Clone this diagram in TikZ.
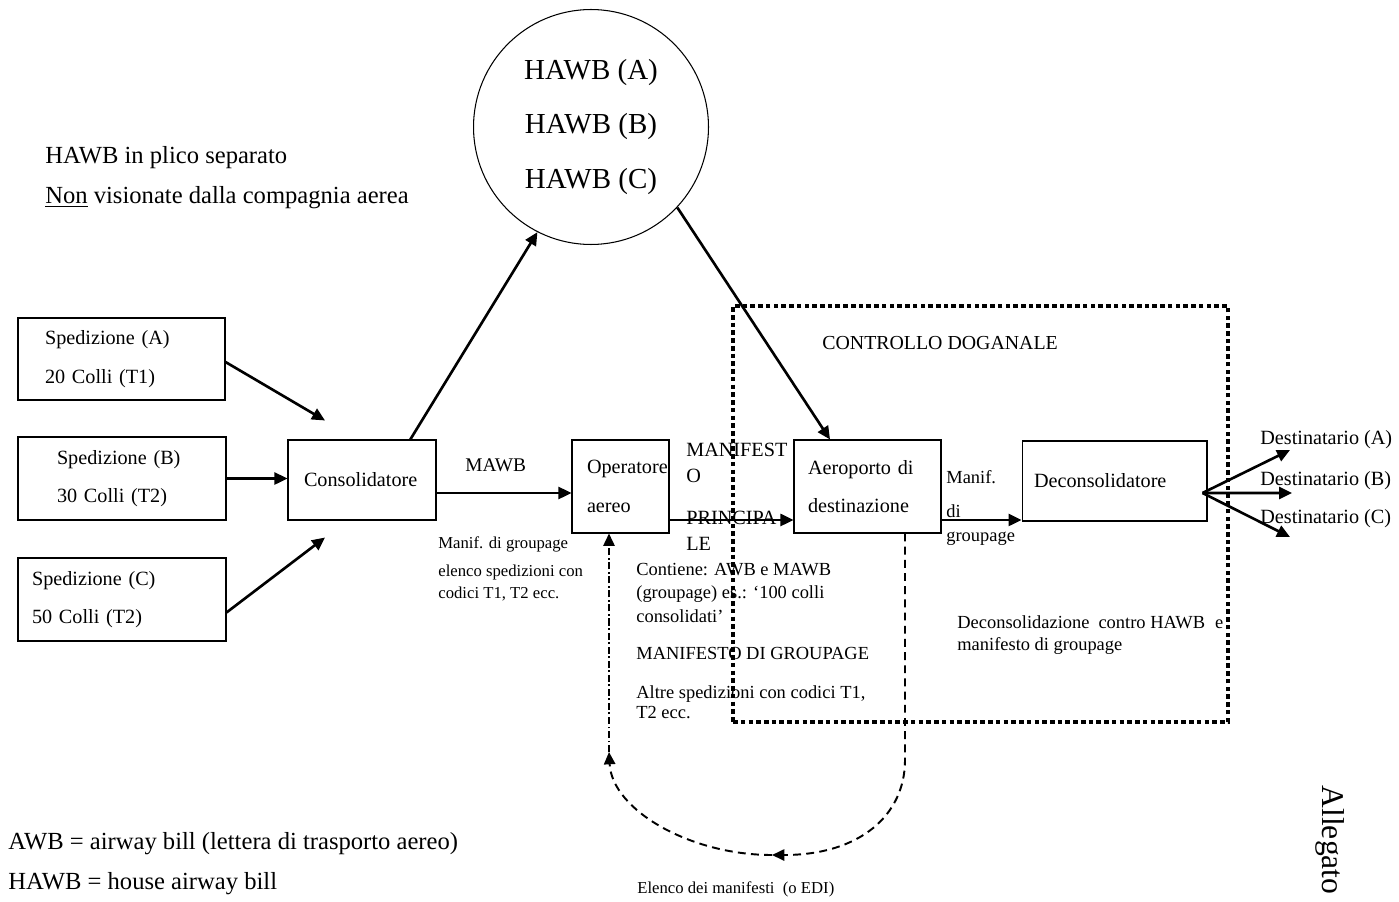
\documentclass[tikz,border=0pt]{standalone}
\usepackage{fontspec}
\setmainfont{Liberation Serif}
\usetikzlibrary{arrows.meta}

\begin{document}
\begin{tikzpicture}[x=0.02cm,y=-0.02cm,
    box/.style={draw,line width=0.6pt,font=\fontsize{11.5}{22}\selectfont,align=left,inner ysep=0pt},
    txt/.style={inner sep=0pt,align=left},
    arr/.style={line width=1.5pt,-{Triangle[length=7.4pt,width=6.8pt]}},
    dsh/.style={line width=1.1pt,dash pattern=on 4.5pt off 3pt,-{Triangle[length=7pt,width=6.4pt]}},
    dashdot/.style={line width=1pt,dash pattern=on 4pt off 1.5pt on 1pt off 1.5pt,-{Triangle[length=7pt,width=6.4pt]}},
    frame/.style={draw,line width=2.6pt,dash pattern=on 2.6pt off 1.8pt}]
      \useasboundingbox (0,0) rectangle (1399,902);
      \node[frame,minimum width=9.9cm,minimum height=8.32cm] (dogana) at (980.5,514) {};
      \node[box,minimum height=1.64cm,text width=3.06cm,inner xsep=0.54cm] (sa) at (121.5,359) {Spedizione (A)\\20 Colli (T1)};
      \node[box,minimum height=1.66cm,text width=2.6cm,inner xsep=0.78cm] (sb) at (122,478.5) {Spedizione (B)\\30 Colli (T2)};
      \node[box,minimum height=1.66cm,text width=3.6cm,inner xsep=0.28cm] (sc) at (122,599.5) {Spedizione (C)\\50 Colli (T2)};
      \node[box,minimum height=1.6cm,text width=2.32cm,inner xsep=0.32cm] (cons) at (362,480) {Consolidatore};
      \node[box,minimum height=1.86cm,text width=1.34cm,inner xsep=0.3cm] (oper) at (620.5,486.5) {Operatore\\aereo};
      \node[box,minimum height=1.86cm,text width=2.38cm,inner xsep=0.28cm] (aero) at (867.5,486.5) {Aeroporto di\\destinazione};
      \node[box,minimum height=1.6cm,text width=3.22cm,inner xsep=0.24cm] (decons) at (1114.5,481) {Deconsolidatore};
      \node[draw,circle,line width=0.6pt,minimum size=4.7cm,inner sep=0pt,align=center,font=\fontsize{16.5}{31}\selectfont] (hawb) at (591,127) {HAWB (A)\\HAWB (B)\\HAWB (C)};

      \node[txt,anchor=west,font=\fontsize{14}{17}\selectfont] (plico) at (45,158) {HAWB in plico separato};
      \node[txt,anchor=west,font=\fontsize{14}{17}\selectfont] (nonvis) at (45,198) {\underline{Non} visionate dalla compagnia aerea};
      \node[txt,anchor=west,font=\fontsize{11.3}{14}\selectfont] (ctrl) at (822,343) {CONTROLLO DOGANALE};
      \node[txt,anchor=west,font=\fontsize{11}{14}\selectfont] (mawb) at (465,465) {MAWB};
      \node[txt,anchor=north west,font=\fontsize{9.5}{12.5}\selectfont] (mgroup) at (438,536) {Manif. di groupage\\[3.4pt]elenco spedizioni con\\codici T1, T2 ecc.};
      \node[txt,anchor=north west,font=\fontsize{11.5}{14.5}\selectfont] (mprinc) at (686,443) {MANIFEST\\O\\[9.8pt]PRINCIPA\\LE};
      \node[txt,anchor=north west,font=\fontsize{10.5}{13.3}\selectfont] (contiene) at (636,563) {Contiene: AWB e MAWB\\(groupage) es.: ‘100 colli\\consolidati’};
      \node[txt,anchor=west,font=\fontsize{10.5}{13}\selectfont] (mdg) at (636,653) {MANIFESTO DI GROUPAGE};
      \node[txt,anchor=north west,font=\fontsize{10.5}{11.5}\selectfont] (altre) at (636,685) {Altre spedizioni con codici T1,\\T2 ecc.};
      \node[txt,anchor=north west,font=\fontsize{10.5}{13.6}\selectfont] (mdx) at (946,470) {Manif.\\[5.7pt]di\\groupage};
      \node[txt,anchor=north west,font=\fontsize{10.5}{12.5}\selectfont] (deconsol) at (957,615) {Deconsolidazione\hspace{2.5pt} contro HAWB\hspace{3pt} e\\manifesto di groupage};
      \node[txt,anchor=west,font=\fontsize{11.5}{14}\selectfont] (desta) at (1260,440) {Destinatario (A)};
      \node[txt,anchor=west,font=\fontsize{11.5}{14}\selectfont] (destb) at (1260,481) {Destinatario (B)};
      \node[txt,anchor=west,font=\fontsize{11.5}{14}\selectfont] (destc) at (1260,519) {Destinatario (C)};
      \node[txt,anchor=west,font=\fontsize{9.5}{12}\selectfont] (elenco) at (637,889) {Elenco dei manifesti\ \ (o EDI)};
      \node[txt,anchor=west,font=\fontsize{14}{17}\selectfont] (awb) at (8,844) {AWB = airway bill (lettera di trasporto aereo)};
      \node[txt,anchor=west,font=\fontsize{14}{17}\selectfont] (hawbdef) at (8,884) {HAWB = house airway bill};
      \node[txt,rotate=-90,font=\fontsize{18}{20}\selectfont] (alleg) at (1330,840) {Allegato};

      \coordinate (ta) at (1290,450);
      \coordinate (tb) at (1292,493);
      \coordinate (tc) at (1290,537);
      \coordinate (bend) at (905,760);
      \coordinate (edi) at (772,855);
      \coordinate (ret) at (609,752);

      \draw[arr] ([yshift=-0.06cm]sa.east) -- ([xshift=-0.74cm,yshift=0.38cm]cons.north);
      \draw[arr] (sb.east) -- (sb.east -| cons.west);
      \draw[arr] ([yshift=-0.26cm]sc.east) -- ([xshift=-0.74cm,yshift=-0.34cm]cons.south);
      \draw[arr] (cons.40) -- (hawb.-117);
      \draw[arr] ([yshift=-0.26cm]cons.east) -- ([yshift=-0.26cm]cons.east -| oper.west);
      \draw[arr] ([yshift=-0.67cm]oper.east) -- ([yshift=-0.67cm]oper.east -| aero.west);
      \draw[arr] (hawb.-43) -- ([xshift=-0.75cm]aero.north);
      \draw[arr] ([yshift=-0.67cm]aero.east) -- ([yshift=-0.67cm]aero.east -| decons.west);
      \draw[arr] ([xshift=-0.1cm,yshift=-0.24cm]decons.east) -- (ta);
      \draw[arr] ([xshift=-0.1cm,yshift=-0.24cm]decons.east) -- (tb);
      \draw[arr] ([xshift=-0.1cm,yshift=-0.24cm]decons.east) -- (tc);
      \draw[dsh] ([xshift=0.75cm]aero.south) -- (bend) .. controls (905,815) and (860,855) .. (edi);
      \draw[dsh] (edi) .. controls (690,855) and (612,810) .. (ret);
      \draw[dashdot] (ret) -- (ret |- oper.south);
\end{tikzpicture}
\end{document}
